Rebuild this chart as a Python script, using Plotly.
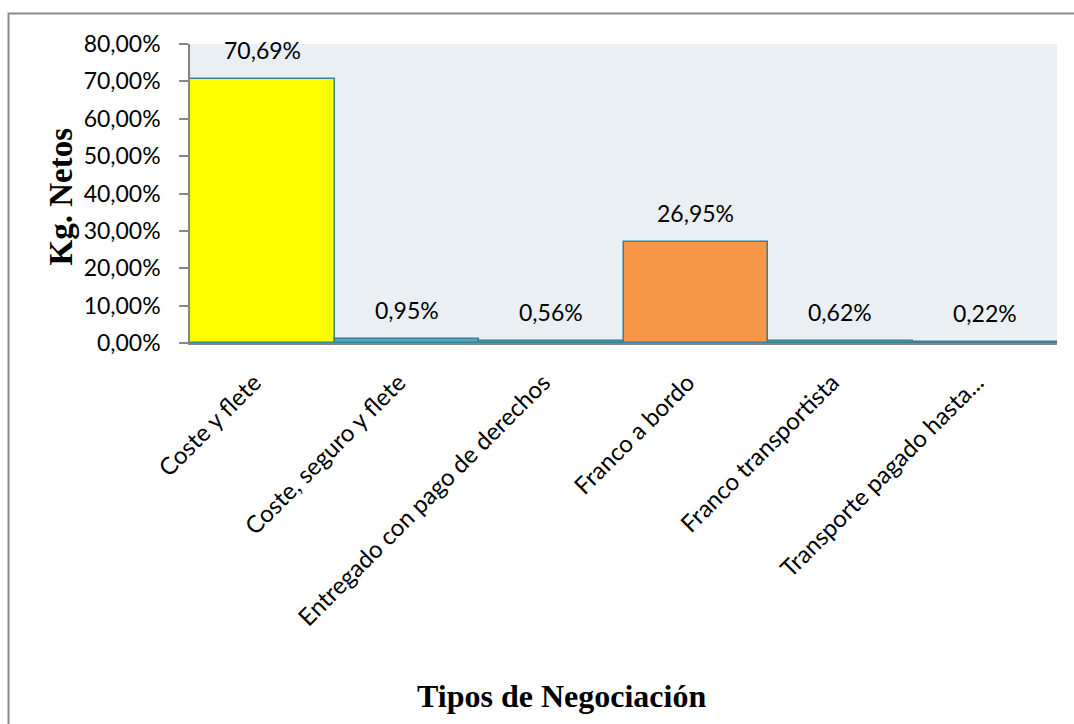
import plotly.graph_objects as go

# Shares of net kilograms by negotiation type (Incoterm)
categorias = [
    "Coste y flete",
    "Coste, seguro y flete",
    "Entregado con pago de derechos",
    "Franco a bordo",
    "Franco transportista",
    "Transporte pagado hasta...",
]
porcentajes = [70.69, 0.95, 0.56, 26.95, 0.62, 0.22]
colores = ["#FFFF00", "#4BACC6", "#4BACC6", "#F79646", "#4BACC6", "#4BACC6"]
ticks_y = [0, 10, 20, 30, 40, 50, 60, 70, 80]


def fmt_pct(v):
    return f"{v:.2f}%".replace(".", ",")


FONT_LABEL = "Lato, 'Open Sans', sans-serif"
FONT_TITLE = "'Liberation Serif', 'Times New Roman', serif"

fig = go.Figure()
fig.add_trace(go.Bar(
    x=categorias,
    y=porcentajes,
    marker=dict(color=colores, line=dict(color="#3A7F98", width=1.5)),
    hoverinfo="skip",
))

# Value labels above each bar
for cat, val in zip(categorias, porcentajes):
    fig.add_annotation(
        x=cat, y=val, xref="x", yref="y",
        text=fmt_pct(val),
        showarrow=False, yanchor="bottom", yshift=13,
        font=dict(family=FONT_LABEL, size=23, color="#000000"),
    )

# Axis titles
fig.add_annotation(
    x=-0.1488, y=0.49, xref="paper", yref="paper",
    text="<b>Kg. Netos</b>", textangle=-90, showarrow=False,
    xanchor="center", yanchor="middle",
    font=dict(family=FONT_TITLE, size=33, color="#000000"),
)
fig.add_annotation(
    x=0.429, y=-1.18, xref="paper", yref="paper",
    text="<b>Tipos de Negociación</b>", showarrow=False,
    xanchor="center", yanchor="middle",
    font=dict(family=FONT_TITLE, size=32, color="#000000"),
)

# Chart-area frame
fig.add_shape(
    type="rect", xref="paper", yref="paper",
    x0=-0.2093, y0=-1.30, x1=1.03, y1=1.102,
    line=dict(color="#8A8A8A", width=2), fillcolor="rgba(0,0,0,0)",
    layer="below",
)

fig.update_layout(
    width=1074, height=724,
    margin=dict(l=190, r=17, t=44, b=381),
    paper_bgcolor="#FFFFFF",
    plot_bgcolor="#E9EFF3",
    bargap=0,
    showlegend=False,
    font=dict(family=FONT_LABEL, size=23, color="#000000"),
)
fig.update_xaxes(
    type="category",
    tickangle=-45,
    showline=True, linecolor="#868686", linewidth=2,
    ticks="", showgrid=False,
    ticklabelstandoff=14,
    ticklabelshift=-8,
    tickfont=dict(family=FONT_LABEL, size=24, color="#000000"),
)
fig.update_yaxes(
    range=[0, 80],
    tickvals=ticks_y,
    ticktext=[fmt_pct(t) for t in ticks_y],
    showline=True, linecolor="#868686", linewidth=1.5,
    ticks="outside", ticklen=9, tickcolor="#868686", tickwidth=1.5,
    ticklabelstandoff=14,
    showgrid=False, zeroline=False,
    tickfont=dict(family=FONT_LABEL, size=23, color="#000000"),
)

fig.write_html("out.html")
